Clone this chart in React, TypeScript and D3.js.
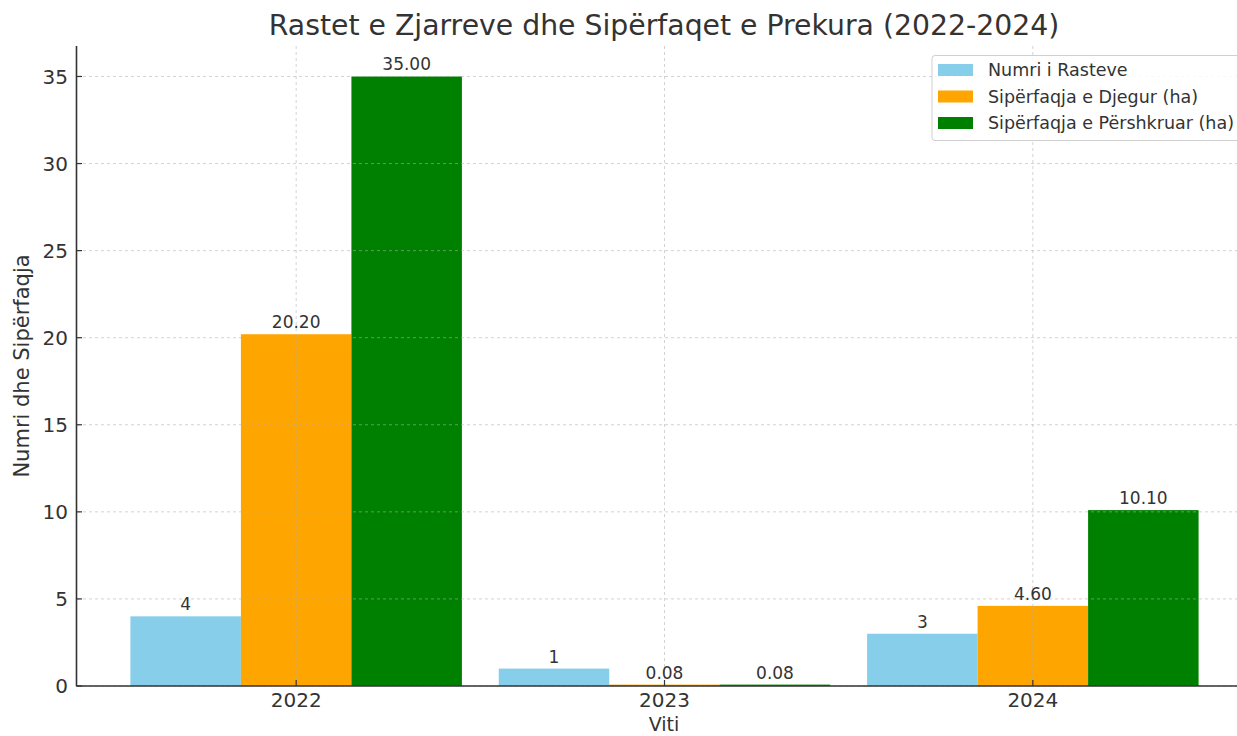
import React from "react";
import * as d3 from "d3";

const years = ["2022", "2023", "2024"];
const seriesNames = ["Numri i Rasteve", "Sipërfaqja e Djegur (ha)", "Sipërfaqja e Përshkruar (ha)"];
const numriRasteve = [4, 1, 3];
const siperfaqjaDjegur = [20.2, 0.08, 4.6];
const siperfaqjaPershkruar = [35.0, 0.08, 10.1];
const seriesColors = ["#87CEEB", "#FFA500", "#008000"];
const yTicks = [0, 5, 10, 15, 20, 25, 30, 35];

const W = 1237;
const H = 736;
const FONT = "DejaVu Sans, sans-serif";
const TXT = "#333333";

export default function App() {
  const series = [numriRasteve, siperfaqjaDjegur, siperfaqjaPershkruar];
  const barW = 0.3;
  const xLin = d3.scaleLinear().domain([-0.595, 2.595]).range([77, 1252]);
  const y = d3.scaleLinear().domain([0, 36.75]).range([686, 46]);
  const pxW = xLin(barW) - xLin(0);
  const fmt = (si: number, v: number) => (si === 0 ? d3.format("d")(v) : d3.format(".2f")(v));

  return (
    <svg width={W} height={H} style={{ position: "absolute", left: 0, top: 0, background: "#fff" }}>
      <rect x={0} y={0} width={W} height={H} fill="#fff" />
      {/* bars */}
      {series.map((vals, si) =>
        vals.map((v, i) => {
          const cx = xLin(i + (si - 1) * barW);
          return (
            <rect
              key={`b${si}-${i}`}
              x={cx - pxW / 2}
              y={y(v)}
              width={pxW}
              height={y(0) - y(v)}
              fill={seriesColors[si]}
            />
          );
        })
      )}
      {/* grid */}
      {yTicks.map((t) => (
        <line key={`gy${t}`} x1={77} x2={W} y1={y(t)} y2={y(t)} stroke="#b0b0b0" strokeOpacity={0.7} strokeDasharray="3,3" strokeWidth={0.8} />
      ))}
      {years.map((yr, i) => (
        <line key={`gx${yr}`} x1={xLin(i)} x2={xLin(i)} y1={46} y2={686} stroke="#b0b0b0" strokeOpacity={0.7} strokeDasharray="3,3" strokeWidth={0.8} />
      ))}
      {/* value labels */}
      {series.map((vals, si) =>
        vals.map((v, i) => (
          <text
            key={`l${si}-${i}`}
            x={xLin(i + (si - 1) * barW)}
            y={y(v) - 6}
            textAnchor="middle"
            fontFamily={FONT}
            fontSize={17}
            fill={TXT}
          >
            {fmt(si, v)}
          </text>
        ))
      )}
      {/* spines */}
      <line x1={76.5} x2={76.5} y1={46} y2={686} stroke={TXT} strokeWidth={1.6} />
      <line x1={76} x2={W} y1={686} y2={686} stroke={TXT} strokeWidth={1.6} />
      {/* y ticks */}
      {yTicks.map((t) => (
        <g key={`yt${t}`}>
          <line x1={77} x2={82} y1={y(t)} y2={y(t)} stroke={TXT} strokeWidth={1.2} />
          <text x={68} y={y(t)} dy="0.36em" textAnchor="end" fontFamily={FONT} fontSize={20} fill={TXT}>
            {t}
          </text>
        </g>
      ))}
      {/* x ticks */}
      {years.map((yr, i) => (
        <g key={`xt${yr}`}>
          <line x1={xLin(i)} x2={xLin(i)} y1={686} y2={680} stroke={TXT} strokeWidth={1.2} />
          <text x={xLin(i)} y={707} textAnchor="middle" fontFamily={FONT} fontSize={20} fill={TXT}>
            {yr}
          </text>
        </g>
      ))}
      {/* axis titles */}
      <text x={664} y={731} textAnchor="middle" fontFamily={FONT} fontSize={19} fill={TXT}>
        Viti
      </text>
      <text
        transform={`translate(29,366) rotate(-90)`}
        textAnchor="middle"
        fontFamily={FONT}
        fontSize={21}
        fill={TXT}
      >
        Numri dhe Sipërfaqja
      </text>
      <text x={664} y={35} textAnchor="middle" fontFamily={FONT} fontSize={28.3} fill={TXT}>
        Rastet e Zjarreve dhe Sipërfaqet e Prekura (2022-2024)
      </text>
      {/* legend */}
      <g>
        <rect x={932} y={55.5} width={320} height={85} rx={3} fill="#fff" fillOpacity={0.85} stroke="#d0d0d0" strokeWidth={1} />
        {seriesNames.map((n, i) => (
          <g key={`lg${i}`}>
            <rect x={938} y={64 + i * 26.5} width={35} height={12} fill={seriesColors[i]} />
            <text x={988} y={70 + i * 26.5} dy="0.36em" fontFamily={FONT} fontSize={17.5} fill={TXT}>
              {n}
            </text>
          </g>
        ))}
      </g>
    </svg>
  );
}
